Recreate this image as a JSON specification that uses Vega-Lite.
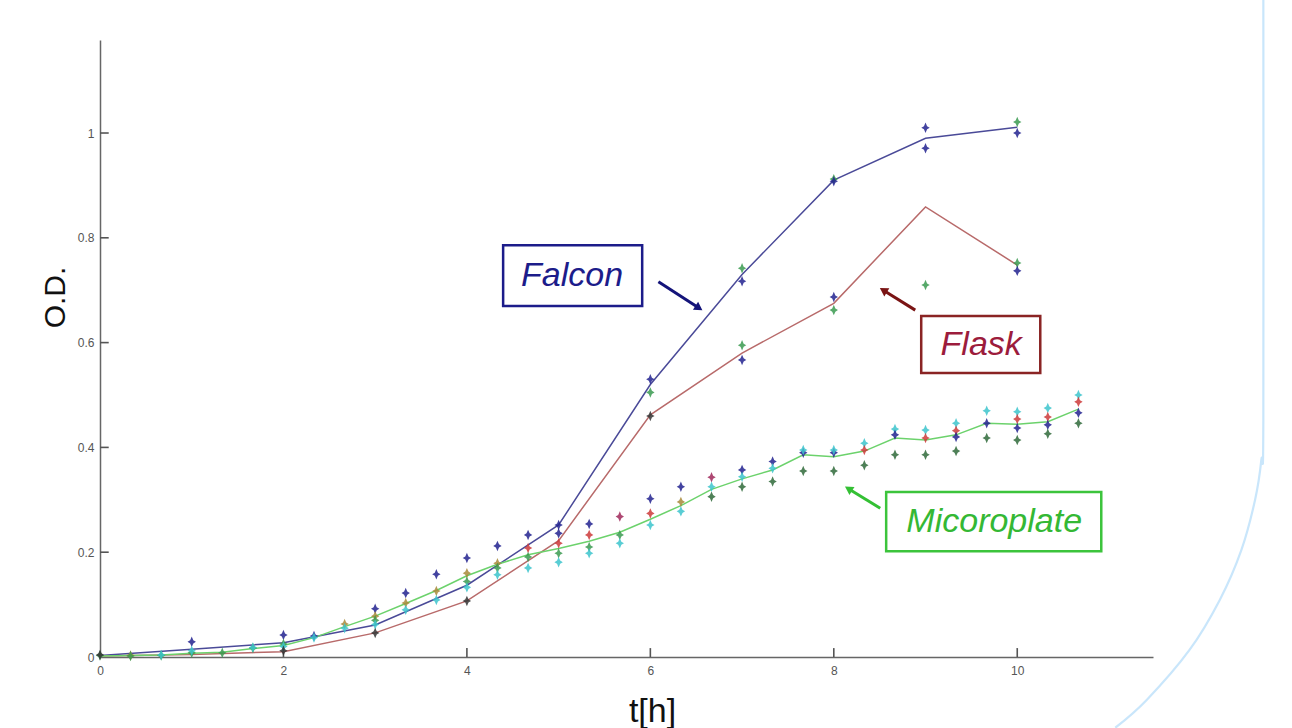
{
  "$schema": "https://vega.github.io/schema/vega-lite/v6.json",
  "width": 1053,
  "height": 617,
  "autosize": {"type": "none"},
  "padding": {"left": 100, "top": 40, "right": 139, "bottom": 71},
  "background": "white",
  "config": {"view": {"stroke": null}},
  "datasets": {
    "lines": [
      {"s": "Falcon", "t": 0, "v": 0.003}, {"s": "Falcon", "t": 1, "v": 0.015}, {"s": "Falcon", "t": 2, "v": 0.027}, {"s": "Falcon", "t": 3, "v": 0.061}, {"s": "Falcon", "t": 4, "v": 0.137}, {"s": "Falcon", "t": 5, "v": 0.252}, {"s": "Falcon", "t": 6, "v": 0.52}, {"s": "Falcon", "t": 7, "v": 0.73}, {"s": "Falcon", "t": 8, "v": 0.91}, {"s": "Falcon", "t": 9, "v": 0.99}, {"s": "Falcon", "t": 10, "v": 1.011},
      {"s": "Flask", "t": 0, "v": 0.002}, {"s": "Flask", "t": 1, "v": 0.005}, {"s": "Flask", "t": 2, "v": 0.01}, {"s": "Flask", "t": 3, "v": 0.046}, {"s": "Flask", "t": 4, "v": 0.107}, {"s": "Flask", "t": 5, "v": 0.222}, {"s": "Flask", "t": 6, "v": 0.462}, {"s": "Flask", "t": 7, "v": 0.58}, {"s": "Flask", "t": 8, "v": 0.675}, {"s": "Flask", "t": 9, "v": 0.859}, {"s": "Flask", "t": 10, "v": 0.748},
      {"s": "Microplate", "t": 0, "v": 0.002}, {"s": "Microplate", "t": 0.333, "v": 0.003}, {"s": "Microplate", "t": 0.667, "v": 0.004}, {"s": "Microplate", "t": 1, "v": 0.007}, {"s": "Microplate", "t": 1.333, "v": 0.009}, {"s": "Microplate", "t": 1.667, "v": 0.016}, {"s": "Microplate", "t": 2, "v": 0.022}, {"s": "Microplate", "t": 2.333, "v": 0.037}, {"s": "Microplate", "t": 2.667, "v": 0.058}, {"s": "Microplate", "t": 3, "v": 0.078}, {"s": "Microplate", "t": 3.333, "v": 0.102}, {"s": "Microplate", "t": 3.667, "v": 0.127}, {"s": "Microplate", "t": 4, "v": 0.155}, {"s": "Microplate", "t": 4.333, "v": 0.177}, {"s": "Microplate", "t": 4.667, "v": 0.195}, {"s": "Microplate", "t": 5, "v": 0.207}, {"s": "Microplate", "t": 5.333, "v": 0.221}, {"s": "Microplate", "t": 5.667, "v": 0.238}, {"s": "Microplate", "t": 6, "v": 0.263}, {"s": "Microplate", "t": 6.333, "v": 0.289}, {"s": "Microplate", "t": 6.667, "v": 0.32}, {"s": "Microplate", "t": 7, "v": 0.34}, {"s": "Microplate", "t": 7.333, "v": 0.357}, {"s": "Microplate", "t": 7.667, "v": 0.386}, {"s": "Microplate", "t": 8, "v": 0.382}, {"s": "Microplate", "t": 8.333, "v": 0.393}, {"s": "Microplate", "t": 8.667, "v": 0.418}, {"s": "Microplate", "t": 9, "v": 0.414}, {"s": "Microplate", "t": 9.333, "v": 0.424}, {"s": "Microplate", "t": 9.667, "v": 0.446}, {"s": "Microplate", "t": 10, "v": 0.444}, {"s": "Microplate", "t": 10.333, "v": 0.449}, {"s": "Microplate", "t": 10.667, "v": 0.473}
    ],
    "pts": [
      {"c": "g", "t": 0, "v": 0.003}, {"c": "k", "t": 0, "v": 0.004},
      {"c": "o", "t": 0.333, "v": 0.003}, {"c": "g", "t": 0.333, "v": 0.002},
      {"c": "g", "t": 0.667, "v": 0.003}, {"c": "c", "t": 0.667, "v": 0.004},
      {"c": "b", "t": 1, "v": 0.029}, {"c": "g", "t": 1, "v": 0.008}, {"c": "c", "t": 1, "v": 0.012},
      {"c": "g", "t": 1.333, "v": 0.008},
      {"c": "g", "t": 1.667, "v": 0.017}, {"c": "c", "t": 1.667, "v": 0.018},
      {"c": "b", "t": 2, "v": 0.042}, {"c": "g", "t": 2, "v": 0.025}, {"c": "c", "t": 2, "v": 0.02}, {"c": "k", "t": 2, "v": 0.012},
      {"c": "b", "t": 2.333, "v": 0.04}, {"c": "c", "t": 2.333, "v": 0.037},
      {"c": "o", "t": 2.667, "v": 0.063}, {"c": "c", "t": 2.667, "v": 0.055},
      {"c": "b", "t": 3, "v": 0.092}, {"c": "o", "t": 3, "v": 0.078}, {"c": "g", "t": 3, "v": 0.07}, {"c": "c", "t": 3, "v": 0.062}, {"c": "k", "t": 3, "v": 0.046},
      {"c": "b", "t": 3.333, "v": 0.122}, {"c": "o", "t": 3.333, "v": 0.103}, {"c": "c", "t": 3.333, "v": 0.09},
      {"c": "b", "t": 3.667, "v": 0.158}, {"c": "o", "t": 3.667, "v": 0.126}, {"c": "c", "t": 3.667, "v": 0.109},
      {"c": "b", "t": 4, "v": 0.189}, {"c": "o", "t": 4, "v": 0.16}, {"c": "g", "t": 4, "v": 0.144}, {"c": "c", "t": 4, "v": 0.133}, {"c": "k", "t": 4, "v": 0.107},
      {"c": "b", "t": 4.333, "v": 0.212}, {"c": "o", "t": 4.333, "v": 0.179}, {"c": "g", "t": 4.333, "v": 0.17}, {"c": "c", "t": 4.333, "v": 0.157},
      {"c": "b", "t": 4.667, "v": 0.233}, {"c": "r", "t": 4.667, "v": 0.208}, {"c": "g", "t": 4.667, "v": 0.191}, {"c": "c", "t": 4.667, "v": 0.17},
      {"c": "b", "t": 5, "v": 0.252}, {"c": "b", "t": 5, "v": 0.236}, {"c": "r", "t": 5, "v": 0.217}, {"c": "g", "t": 5, "v": 0.198}, {"c": "c", "t": 5, "v": 0.181},
      {"c": "b", "t": 5.333, "v": 0.254}, {"c": "r", "t": 5.333, "v": 0.233}, {"c": "g", "t": 5.333, "v": 0.21}, {"c": "c", "t": 5.333, "v": 0.198},
      {"c": "m", "t": 5.667, "v": 0.268}, {"c": "g", "t": 5.667, "v": 0.233}, {"c": "c", "t": 5.667, "v": 0.217},
      {"c": "b", "t": 6, "v": 0.53}, {"c": "g", "t": 6, "v": 0.505}, {"c": "k", "t": 6, "v": 0.46}, {"c": "b", "t": 6, "v": 0.302}, {"c": "r", "t": 6, "v": 0.274}, {"c": "c", "t": 6, "v": 0.252},
      {"c": "b", "t": 6.333, "v": 0.325}, {"c": "o", "t": 6.333, "v": 0.296}, {"c": "c", "t": 6.333, "v": 0.278},
      {"c": "m", "t": 6.667, "v": 0.343}, {"c": "c", "t": 6.667, "v": 0.325}, {"c": "dg", "t": 6.667, "v": 0.306},
      {"c": "g", "t": 7, "v": 0.742}, {"c": "b", "t": 7, "v": 0.717}, {"c": "g", "t": 7, "v": 0.595}, {"c": "b", "t": 7, "v": 0.567}, {"c": "b", "t": 7, "v": 0.357}, {"c": "c", "t": 7, "v": 0.344}, {"c": "dg", "t": 7, "v": 0.325},
      {"c": "b", "t": 7.333, "v": 0.373}, {"c": "c", "t": 7.333, "v": 0.36}, {"c": "dg", "t": 7.333, "v": 0.335},
      {"c": "b", "t": 7.667, "v": 0.39}, {"c": "c", "t": 7.667, "v": 0.395}, {"c": "dg", "t": 7.667, "v": 0.355},
      {"c": "g", "t": 8, "v": 0.912}, {"c": "b", "t": 8, "v": 0.908}, {"c": "b", "t": 8, "v": 0.687}, {"c": "g", "t": 8, "v": 0.662}, {"c": "b", "t": 8, "v": 0.39}, {"c": "c", "t": 8, "v": 0.395}, {"c": "dg", "t": 8, "v": 0.355},
      {"c": "c", "t": 8.333, "v": 0.408}, {"c": "r", "t": 8.333, "v": 0.395}, {"c": "dg", "t": 8.333, "v": 0.366},
      {"c": "c", "t": 8.667, "v": 0.435}, {"c": "b", "t": 8.667, "v": 0.424}, {"c": "dg", "t": 8.667, "v": 0.386},
      {"c": "b", "t": 9, "v": 1.01}, {"c": "b", "t": 9, "v": 0.971}, {"c": "g", "t": 9, "v": 0.71}, {"c": "c", "t": 9, "v": 0.433}, {"c": "r", "t": 9, "v": 0.418}, {"c": "dg", "t": 9, "v": 0.386},
      {"c": "c", "t": 9.333, "v": 0.446}, {"c": "r", "t": 9.333, "v": 0.432}, {"c": "b", "t": 9.333, "v": 0.42}, {"c": "dg", "t": 9.333, "v": 0.393},
      {"c": "c", "t": 9.667, "v": 0.47}, {"c": "b", "t": 9.667, "v": 0.446}, {"c": "dg", "t": 9.667, "v": 0.418},
      {"c": "g", "t": 10, "v": 1.021}, {"c": "b", "t": 10, "v": 1.0}, {"c": "g", "t": 10, "v": 0.752}, {"c": "b", "t": 10, "v": 0.737}, {"c": "c", "t": 10, "v": 0.468}, {"c": "r", "t": 10, "v": 0.454}, {"c": "b", "t": 10, "v": 0.437}, {"c": "dg", "t": 10, "v": 0.414},
      {"c": "c", "t": 10.333, "v": 0.475}, {"c": "r", "t": 10.333, "v": 0.458}, {"c": "b", "t": 10.333, "v": 0.443}, {"c": "dg", "t": 10.333, "v": 0.426},
      {"c": "c", "t": 10.667, "v": 0.5}, {"c": "r", "t": 10.667, "v": 0.487}, {"c": "b", "t": 10.667, "v": 0.466}, {"c": "dg", "t": 10.667, "v": 0.446}
    ],
    "boxes": [
      {"name": "Falcon", "t": 4.395, "t2": 5.911, "v": 0.786, "v2": 0.67},
      {"name": "Flask", "t": 8.953, "t2": 10.251, "v": 0.651, "v2": 0.542},
      {"name": "Micoroplate", "t": 8.571, "t2": 10.916, "v": 0.315, "v2": 0.202}
    ],
    "labels": [
      {"name": "Falcon", "t": 5.147, "v": 0.727},
      {"name": "Flask", "t": 9.607, "v": 0.595},
      {"name": "Micoroplate", "t": 9.749, "v": 0.258}
    ],
    "arrows": [
      {"name": "Falcon", "t": 6.088, "v": 0.716, "t2": 6.53, "v2": 0.666},
      {"name": "Flask", "t": 8.888, "v": 0.662, "t2": 8.54, "v2": 0.7},
      {"name": "Micoroplate", "t": 8.506, "v": 0.284, "t2": 8.16, "v2": 0.321}
    ],
    "xticks": [{"t": 2, "v": 0}, {"t": 4, "v": 0}, {"t": 6, "v": 0}, {"t": 8, "v": 0}, {"t": 10, "v": 0}],
    "yticks": [{"t": 0, "v": 0.2}, {"t": 0, "v": 0.4}, {"t": 0, "v": 0.6}, {"t": 0, "v": 0.8}, {"t": 0, "v": 1}],
    "frame": [
      {"k": 1, "t": 12.683, "v": 1.254}, {"k": 2, "t": 12.683, "v": 0.452}, {"k": 3, "t": 12.661, "v": 0.376}, {"k": 4, "t": 12.593, "v": 0.3}, {"k": 5, "t": 12.443, "v": 0.204}, {"k": 6, "t": 12.208, "v": 0.109}, {"k": 7, "t": 11.876, "v": 0.013}, {"k": 8, "t": 11.411, "v": -0.082}, {"k": 9, "t": 11.069, "v": -0.135}
    ]
  },
  "encoding": {
    "x": {
      "field": "t", "type": "quantitative",
      "scale": {"domain": [0, 11.48], "nice": false, "zero": false},
      "axis": {
        "values": [0, 2, 4, 6, 8, 10], "title": "t[h]", "grid": false, "ticks": false,
        "titleFont": "Liberation Sans", "titleFontSize": 34, "titleFontWeight": "normal", "titleColor": "#111111",
        "titleX": 552, "titleY": 64, "titleAlign": "center", "titleBaseline": "alphabetic",
        "labelFont": "Liberation Sans", "labelFontSize": 12, "labelColor": "#555555", "labelPadding": 8, "labelFlush": false,
        "domainColor": "#666666", "domainWidth": 1.5
      }
    },
    "y": {
      "field": "v", "type": "quantitative",
      "scale": {"domain": [0, 1.1775], "nice": false, "zero": false},
      "axis": {
        "values": [0, 0.2, 0.4, 0.6, 0.8, 1], "format": "~g", "title": "O.D.", "grid": false, "ticks": false,
        "titleFont": "Liberation Sans", "titleFontSize": 30, "titleFontWeight": "normal", "titleColor": "#111111",
        "titleAngle": -90, "titleX": -36, "titleY": 257, "titleAlign": "center", "titleBaseline": "alphabetic",
        "labelFont": "Liberation Sans", "labelFontSize": 12, "labelColor": "#555555", "labelPadding": 6, "labelFlush": false,
        "domainColor": "#666666", "domainWidth": 1.5
      }
    }
  },
  "layer": [
    {
      "data": {"name": "frame"},
      "mark": {"type": "line", "stroke": "#c9e6fb", "strokeWidth": 2.2, "interpolate": "cardinal"},
      "encoding": {"order": {"field": "k", "type": "quantitative"}}
    },
    {
      "data": {"name": "xticks"},
      "mark": {"type": "rule", "color": "#555555", "strokeWidth": 1.6},
      "encoding": {"y2": {"datum": 0.017}}
    },
    {
      "data": {"name": "yticks"},
      "mark": {"type": "rule", "color": "#555555", "strokeWidth": 1.6},
      "encoding": {"x2": {"datum": 0.095}}
    },
    {
      "data": {"name": "lines"},
      "mark": {"type": "line", "strokeWidth": 1.5},
      "encoding": {
        "color": {"field": "s", "type": "nominal", "legend": null,
          "scale": {"domain": ["Falcon", "Flask", "Microplate"], "range": ["#4a4a98", "#b86a6a", "#6cd26c"]}}
      }
    },
    {
      "data": {"name": "pts"},
      "mark": {"type": "point", "filled": true, "opacity": 0.85, "size": 110,
        "shape": "M0,-1L0.3,-0.3L0.8,0L0.3,0.3L0,1L-0.3,0.3L-0.8,0L-0.3,-0.3Z"},
      "encoding": {
        "color": {"field": "c", "type": "nominal", "legend": null,
          "scale": {"domain": ["b", "g", "r", "c", "k", "o", "m", "dg"],
            "range": ["#22228f", "#3a9a50", "#cc3a3a", "#3cc4cc", "#333333", "#a88a3a", "#a0285a", "#2f6a3a"]}}
      }
    },
    {
      "data": {"name": "boxes"},
      "mark": {"type": "rect", "fill": "white", "strokeWidth": 2.5},
      "encoding": {
        "x2": {"field": "t2"}, "y2": {"field": "v2"},
        "stroke": {"field": "name", "type": "nominal", "legend": null,
          "scale": {"domain": ["Falcon", "Flask", "Micoroplate"], "range": ["#1c1c8a", "#8a2424", "#3cc43c"]}}
      }
    },
    {
      "data": {"name": "labels"},
      "mark": {"type": "text", "font": "Liberation Sans", "fontSize": 34, "fontStyle": "italic", "align": "center", "baseline": "middle"},
      "encoding": {
        "text": {"field": "name", "type": "nominal"},
        "color": {"field": "name", "type": "nominal", "legend": null,
          "scale": {"domain": ["Falcon", "Flask", "Micoroplate"], "range": ["#1c1c8a", "#9c1c3c", "#34b834"]}}
      }
    },
    {
      "data": {"name": "arrows"},
      "mark": {"type": "rule", "strokeWidth": 3},
      "encoding": {
        "x2": {"field": "t2"}, "y2": {"field": "v2"},
        "color": {"field": "name", "type": "nominal", "legend": null,
          "scale": {"domain": ["Falcon", "Flask", "Micoroplate"], "range": ["#14147a", "#7a1414", "#34c034"]}}
      }
    },
    {
      "data": {"name": "arrows"},
      "transform": [{"filter": "datum.name === 'Falcon'"}],
      "mark": {"type": "point", "shape": "triangle-up", "filled": true, "size": 90, "angle": 123, "color": "#14147a", "opacity": 1},
      "encoding": {"x": {"field": "t2", "type": "quantitative"}, "y": {"field": "v2", "type": "quantitative"}}
    },
    {
      "data": {"name": "arrows"},
      "transform": [{"filter": "datum.name === 'Flask'"}],
      "mark": {"type": "point", "shape": "triangle-up", "filled": true, "size": 90, "angle": 302, "color": "#7a1414", "opacity": 1},
      "encoding": {"x": {"field": "t2", "type": "quantitative"}, "y": {"field": "v2", "type": "quantitative"}}
    },
    {
      "data": {"name": "arrows"},
      "transform": [{"filter": "datum.name === 'Micoroplate'"}],
      "mark": {"type": "point", "shape": "triangle-up", "filled": true, "size": 90, "angle": 302, "color": "#34c034", "opacity": 1},
      "encoding": {"x": {"field": "t2", "type": "quantitative"}, "y": {"field": "v2", "type": "quantitative"}}
    }
  ],
  "resolve": {"scale": {"color": "independent", "stroke": "independent"}}
}
